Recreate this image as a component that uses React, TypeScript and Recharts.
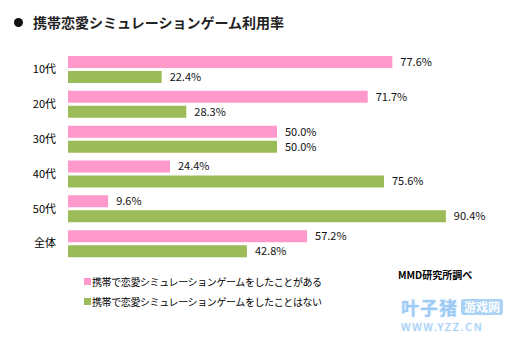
import React from 'react';
import { BarChart, Bar, XAxis, YAxis, LabelList } from 'recharts';

const categories = ['10代', '20代', '30代', '40代', '50代', '全体'];
const played = [77.6, 71.7, 50.0, 24.4, 9.6, 57.2];
const notPlayed = [22.4, 28.3, 50.0, 75.6, 90.4, 42.8];
const seriesNames = [
  '携帯で恋愛シミュレーションゲームをしたことがある',
  '携帯で恋愛シミュレーションゲームをしたことはない',
];
const seriesColors = ['#ff99cc', '#9bbb59'];
const title = '携帯恋愛シミュレーションゲーム利用率';
const source = 'MMD研究所調べ';

const data = categories.map((name, i) => ({ name, played: played[i], notPlayed: notPlayed[i] }));

const FONT = '"Noto Sans CJK JP", "Noto Sans", sans-serif';

const fmt = (v: any) => `${Number(v).toFixed(1)}%`;

export default function App() {
  return (
    <div style={{ position: 'absolute', left: 0, top: 0, width: 520, height: 340, background: '#fff', fontFamily: FONT }}>
      <div style={{ position: 'absolute', left: 14, top: 12, fontSize: 14, fontWeight: 700, color: '#222', whiteSpace: 'nowrap', display: 'flex', alignItems: 'center' }}>
        <span style={{ display: 'inline-block', width: 9, height: 9, borderRadius: '50%', background: '#111', marginRight: 10 }} />
        <span>{title}</span>
      </div>
      <BarChart
        width={520}
        height={340}
        data={data}
        layout="vertical"
        margin={{ top: 52, right: 34, bottom: 79, left: 0 }}
        barSize={12}
        barGap={3}
      >
        <XAxis type="number" domain={[0, 100]} hide />
        <YAxis
          type="category"
          dataKey="name"
          width={68}
          axisLine={false}
          tickLine={false}
          tickMargin={6}
          tick={{ fontSize: 11, fill: '#000', fontFamily: FONT }}
        />
        <Bar dataKey="played" name={seriesNames[0]} fill={seriesColors[0]} isAnimationActive={false}>
          <LabelList dataKey="played" position="right" offset={8} formatter={fmt} style={{ fontSize: 11, fill: '#111', fontFamily: FONT }} />
        </Bar>
        <Bar dataKey="notPlayed" name={seriesNames[1]} fill={seriesColors[1]} isAnimationActive={false}>
          <LabelList dataKey="notPlayed" position="right" offset={8} formatter={fmt} style={{ fontSize: 11, fill: '#111', fontFamily: FONT }} />
        </Bar>
      </BarChart>
      <div style={{ position: 'absolute', left: 84, top: 271, whiteSpace: 'nowrap' }}>
        {seriesNames.map((n, i) => (
          <div key={n} style={{ display: 'flex', alignItems: 'center', height: 20, fontSize: 10, color: '#000' }}>
            <span style={{ display: 'inline-block', width: 7, height: 7, background: seriesColors[i], marginRight: 1 }} />
            <span style={{ letterSpacing: -0.4 }}>{n}</span>
          </div>
        ))}
      </div>
      <div style={{ position: 'absolute', left: 398, top: 267, fontSize: 10, fontWeight: 700, color: '#000', whiteSpace: 'nowrap' }}>
        {source}
      </div>
      <div style={{ position: 'absolute', left: 401, top: 297, whiteSpace: 'nowrap', color: '#9ccaf5' }}>
        <div style={{ display: 'flex', alignItems: 'center', height: 20 }}>
          <span style={{ fontSize: 18, fontWeight: 700, letterSpacing: 1, textShadow: '0 0 3px #d6e9fb' }}>叶子猪</span>
          <span style={{ marginLeft: 3, fontSize: 12, fontWeight: 700, color: '#fff', background: '#a9d2f6', borderRadius: 3, padding: '0 3px', lineHeight: '16px' }}>游戏网</span>
        </div>
        <div style={{ fontSize: 11, letterSpacing: 1.5, marginTop: 1, textShadow: '0 0 3px #d6e9fb' }}>WWW.YZZ.CN</div>
      </div>
    </div>
  );
}
